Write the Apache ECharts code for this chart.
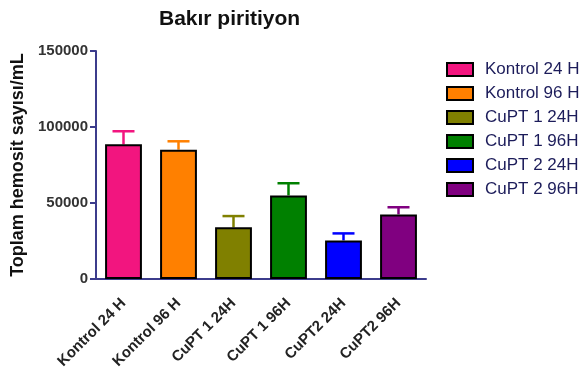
<!DOCTYPE html>
<html lang="tr">
	<head>
		<meta charset="utf-8" />
		<title>Bakır piritiyon</title>
	</head>
	<body style="margin:0">
		<div id="main" style="width: 586px;height: 380px"></div>

		<script src="https://cdn.jsdelivr.net/npm/echarts@6/dist/echarts.min.js"></script>
		<script type="text/javascript">
			const categories = ['Kontrol 24 H', 'Kontrol 96 H', 'CuPT 1 24H', 'CuPT 1 96H', 'CuPT2 24H', 'CuPT2 96H'];
			const legendNames = ['Kontrol 24 H', 'Kontrol 96 H', 'CuPT 1 24H', 'CuPT 1 96H', 'CuPT 2 24H', 'CuPT 2 96H'];
			const means = [88600, 85100, 34000, 55000, 25400, 42500];
			const errors = [8600, 5500, 7400, 8000, 4600, 4700];
			const colors = ['#f2157f', '#ff8000', '#808000', '#008000', '#0000ff', '#800080'];
			const yTicks = [0, 50000, 100000, 150000];

			const font = 'Liberation Sans, Arial, sans-serif';
			const axisColor = '#3c3c8c';
			const myChart = echarts.init(document.getElementById('main'));

			// one series per group so every bar gets its own legend entry
			const barSeries = legendNames.map((name, i) => ({
				type: 'bar',
				name,
				stack: 'all',
				barWidth: '67%',
				data: means.map((v, j) => (j === i ? v : '-')),
				itemStyle: { color: colors[i], borderColor: '#000', borderWidth: 2 },
				z: 2,
			}));

			const errorSeries = {
				type: 'custom',
				name: 'sem',
				data: means.map((m, i) => [i, m, m + errors[i]]),
				renderItem(params, api) {
					const i = api.value(0);
					const base = api.coord([i, api.value(1)]);
					const top = api.coord([i, api.value(2)]);
					const half = 11;
					const style = { stroke: colors[i], lineWidth: 2.5 };
					return {
						type: 'group',
						children: [
							{ type: 'line', shape: { x1: base[0], y1: base[1], x2: top[0], y2: top[1] }, style },
							{ type: 'line', shape: { x1: top[0] - half, y1: top[1], x2: top[0] + half, y2: top[1] }, style },
						],
					};
				},
				z: 1,
			};

			const option = {
				animation: false,
				textStyle: { fontFamily: font },
				title: {
					text: 'Bakır piritiyon',
					left: 154,
					top: 4,
					textStyle: { fontSize: 21, fontWeight: 'bold', color: '#111', fontFamily: font },
				},
				legend: {
					orient: 'vertical',
					left: 441,
					top: 56,
					itemWidth: 26,
					itemHeight: 13,
					itemGap: 7,
					icon: 'rect',
					data: legendNames,
					textStyle: { fontSize: 17, color: '#1c1c5a', fontFamily: font, padding: [0, 0, 0, 7] },
				},
				grid: { left: 96, right: 160, top: 51, bottom: 101 },
				xAxis: {
					type: 'category',
					data: categories,
					axisLine: { lineStyle: { color: axisColor, width: 2 } },
					axisTick: { alignWithLabel: true, length: 6, lineStyle: { color: axisColor, width: 2 } },
					axisLabel: { rotate: 45, fontSize: 15, fontWeight: 'bold', color: '#222', margin: 22 },
				},
				yAxis: {
					type: 'value',
					min: yTicks[0],
					max: yTicks[yTicks.length - 1],
					interval: yTicks[1] - yTicks[0],
					name: 'Toplam hemosit sayısı/mL',
					nameLocation: 'middle',
					nameGap: 64,
					nameTextStyle: { fontSize: 18, fontWeight: 'bold', color: '#111' },
					splitLine: { show: false },
					axisLine: { show: true, lineStyle: { color: axisColor, width: 2 } },
					axisTick: { show: true, length: 6, lineStyle: { color: axisColor, width: 2 } },
					axisLabel: { fontSize: 15, fontWeight: 'bold', color: '#333', margin: 8, formatter: v => String(v) },
				},
				series: [...barSeries, errorSeries],
			};
			myChart.setOption(option);
		</script>
	</body>
</html>
